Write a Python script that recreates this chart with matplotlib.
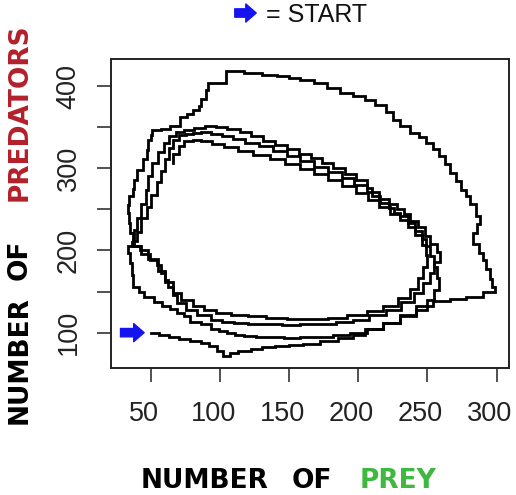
import numpy as np
import matplotlib
matplotlib.use("Agg")
import matplotlib.pyplot as plt
from matplotlib.transforms import ScaledTranslation

# stochastic predator-prey run
# start -> low bottom -> big outer loop
prey_1 = [50, 56, 63, 70, 78, 86, 92, 98, 102, 107, 113, 122, 130, 140, 150, 160, 172, 185,
          196, 205, 218, 230, 242, 254, 266, 278, 290, 299,
          297, 295, 292, 290, 287, 283, 286, 288, 285, 281, 278, 274, 271, 266, 263, 258,
          254, 249, 244, 237, 230, 225, 220, 212, 205, 196, 187, 177, 168, 158, 150, 141,
          130, 117, 106, 104, 104, 98, 93, 91, 90, 86, 85, 80, 76, 71, 64, 57, 51, 50,
          48, 47, 44, 40, 38, 37, 34, 33, 34, 35, 37, 36, 33]
pred_1 = [100, 97, 95, 92, 90, 87, 84, 78, 72, 75, 78, 80, 82, 84, 85, 86, 90, 93,
          97, 104, 112, 122, 132, 138, 141, 144, 150, 155,
          165, 177, 188, 197, 208, 221, 232, 242, 257, 266, 274, 285, 294, 305, 315, 323,
          331, 338, 343, 352, 359, 369, 377, 383, 388, 392, 398, 404, 407, 410, 412, 414,
          416, 418, 419, 410, 404, 404, 404, 395, 384, 376, 371, 366, 363, 351, 348, 347, 340, 335,
          322, 311, 298, 286, 275, 266, 255, 246, 233, 221, 210, 205, 197]

# second loop (inner, widest)
prey_2 = [35, 36, 37, 41, 45, 52, 58, 64, 69, 74, 78, 86, 93, 99, 105, 111, 117, 126, 135,
          146, 158, 170, 182, 194, 206, 218, 230, 242, 250, 255, 258, 257, 255, 252, 249,
          246, 241, 236, 230, 226, 222, 216, 210, 206, 198, 190, 182, 174, 166, 157, 148,
          140, 131, 122, 114, 105, 97, 89, 81, 74, 68, 63, 59, 55, 51, 48, 46, 43, 40, 38, 37]
pred_2 = [185, 170, 156, 150, 144, 137, 132, 129, 124, 120, 113, 110, 104, 102, 100, 97, 96, 95, 95,
          94, 95, 95, 97, 99, 105, 112, 120, 128, 140, 152, 166, 180, 193, 205, 214,
          224, 234, 242, 246, 252, 258, 266, 276, 286, 293, 300, 306, 312, 318, 323, 328,
          333, 339, 344, 348, 350, 351, 349, 347, 344, 339, 331, 320, 307, 291, 273, 256, 240, 225, 213, 205]

# third loop
prey_3 = [43, 49, 54, 57, 60, 62, 66, 69, 75, 83, 93, 101, 110, 120, 132, 145, 158, 171, 184,
          196, 208, 220, 231, 240, 247, 252, 255, 259, 257, 252, 248, 243, 237, 233, 228,
          222, 215, 206, 197, 188, 178, 168, 158, 148, 138, 128, 118, 109, 101, 93, 86,
          80, 75, 70, 66, 63, 60, 57, 54, 50, 47, 43, 40, 38]
pred_3 = [196, 188, 182, 173, 164, 156, 146, 136, 128, 122, 116, 113, 112, 110, 110, 109, 110, 111, 113,
          116, 121, 128, 137, 148, 160, 172, 186, 198, 208, 218, 228, 236, 244, 250, 256,
          263, 271, 280, 288, 295, 302, 309, 315, 321, 327, 331, 336, 339, 342, 344, 343,
          342, 340, 335, 325, 311, 297, 283, 268, 253, 239, 223, 212, 205]

# last loop, ends on the upper left
prey_4 = [42, 48, 55, 60, 66, 72, 80, 88, 97, 108, 120, 133, 148, 163, 178, 192, 206, 218,
          229, 237, 243, 247, 250, 249, 246, 241, 236, 230, 223, 215, 207, 198, 188, 178,
          168, 158, 147, 136, 124, 113, 103, 94, 86, 80, 74, 70, 66]
pred_4 = [200, 190, 175, 162, 148, 140, 132, 127, 124, 122, 120, 118, 117, 117, 118, 121, 126, 133,
          142, 153, 166, 180, 194, 207, 219, 229, 237, 245, 253, 261, 270, 278, 286, 293,
          299, 305, 311, 316, 321, 326, 330, 333, 335, 333, 327, 318, 306]

prey = prey_1 + prey_2 + prey_3 + prey_4
predators = pred_1 + pred_2 + pred_3 + pred_4

x_ticks = [50, 100, 150, 200, 250, 300]
y_ticks = [100, 150, 200, 250, 300, 350, 400]
y_tick_labels = ["100", "", "200", "", "300", "", "400"]

arrow_blue = "#1414f0"
prey_green = "#3fb83f"
pred_red = "#b3202a"

fig = plt.figure(figsize=(5.16, 4.95), dpi=100)
W, H = 516, 495
ax = fig.add_axes([111 / W, (H - 368) / H, 398 / W, 309 / H])

# births/deaths happen one at a time, so draw it as a staircase
ax.plot(prey, predators, color="black", lw=2.0, drawstyle="steps-post",
        solid_joinstyle="miter")
ax.set_xlim(21, 309)
ax.set_ylim(57, 433)

ax.set_xticks(x_ticks)
ax.set_xticklabels([str(v) for v in x_ticks])
ax.set_yticks(y_ticks)
ax.set_yticklabels(y_tick_labels, rotation=90, va="center")
ax.tick_params(axis="x", length=10, width=1.1, pad=14, color="#222222")
ax.tick_params(axis="y", length=10, width=1.1, pad=11, color="#222222")
tick_font = ["Liberation Sans", "DejaVu Sans"]
for lab in ax.get_xticklabels() + ax.get_yticklabels():
    lab.set_family(tick_font)
    lab.set_fontsize(19.5)
    lab.set_color("#222222")
# the x labels sit a little left of their ticks in the original
for lab in ax.get_xticklabels():
    lab.set_transform(lab.get_transform() + ScaledTranslation(-5 / 72, 0, fig.dpi_scale_trans))
for sp in ax.spines.values():
    sp.set_linewidth(1.4)
    sp.set_color("#222222")

# arrow pointing at the start point
ax.annotate("", xy=(prey[0], predators[0]), xytext=(-22, 0), textcoords="offset points",
            arrowprops=dict(arrowstyle="simple,head_length=0.75,head_width=1.3,tail_width=0.6",
                            color=arrow_blue, shrinkA=0, shrinkB=5, mutation_scale=10))

# legend-like title
fig.add_artist(matplotlib.patches.FancyArrowPatch(
    (232 / W, 1 - 13 / H), (259 / W, 1 - 13 / H), transform=fig.transFigure,
    arrowstyle="simple,head_length=0.75,head_width=1.3,tail_width=0.6",
    color=arrow_blue, mutation_scale=10))
fig.text(266 / W, 1 - 15 / H, "= START", fontsize=18, va="center", ha="left",
         family=["Liberation Sans", "DejaVu Sans"], color="#111111")

# axis labels, word by word
lab_kw = dict(fontsize=19, fontweight="bold", family="DejaVu Sans", va="center", ha="center")
fig.text(205 / W, 1 - 481 / H, "NUMBER", color="black", **lab_kw)
fig.text(312 / W, 1 - 481 / H, "OF", color="black", **lab_kw)
fig.text(398 / W, 1 - 481 / H, "PREY", color=prey_green, **lab_kw)
fig.text(20 / W, 1 - 360 / H, "NUMBER", color="black", rotation=90, **lab_kw)
fig.text(20 / W, 1 - 260 / H, "OF", color="black", rotation=90, **lab_kw)
fig.text(20 / W, 1 - 112 / H, "PREDATORS", color=pred_red, rotation=90, **lab_kw)

fig.savefig("out.png", dpi=100)
